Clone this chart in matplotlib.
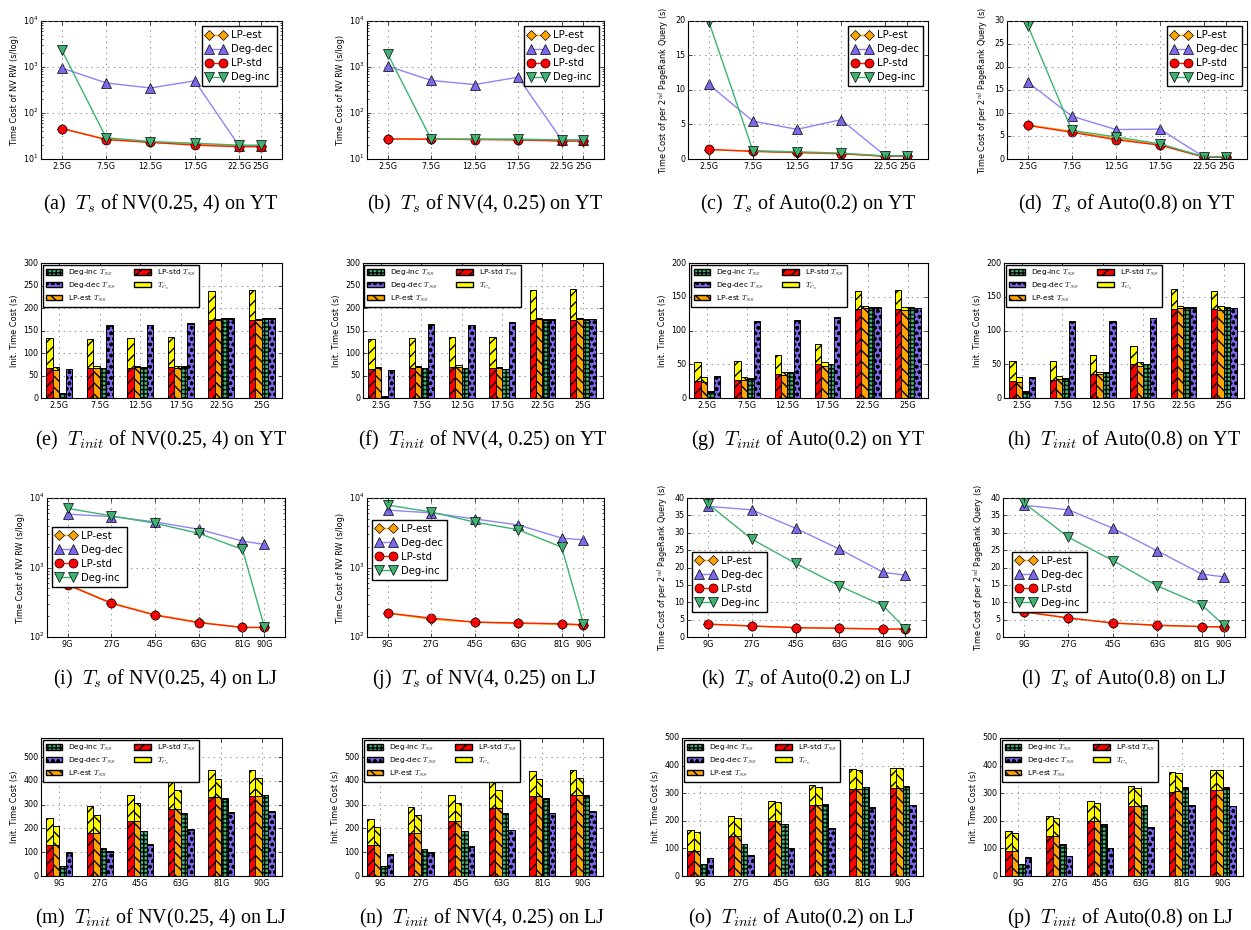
import matplotlib
matplotlib.use('Agg')
import matplotlib.pyplot as plt
from matplotlib.patches import Patch

plt.style.use('classic')
plt.rcParams['font.family'] = 'DejaVu Sans'
plt.rcParams['figure.facecolor'] = 'white'
plt.rcParams['savefig.facecolor'] = 'white'
plt.rcParams['hatch.linewidth'] = 1.0
plt.rcParams['mathtext.fontset'] = 'cm'

W, H = 1251, 930

# x axis categories
yt_sizes = [2.5, 7.5, 12.5, 17.5, 22.5, 25]
yt_labels = ['2.5G', '7.5G', '12.5G', '17.5G', '22.5G', '25G']
lj_sizes = [9, 27, 45, 63, 81, 90]
lj_labels = ['9G', '27G', '45G', '63G', '81G', '90G']

# T_s panels: LP-est, Deg-dec, LP-std, Deg-inc
a_est = [46, 27, 23, 21, 19, 19]
a_dec = [950, 450, 350, 500, 19.5, 19.5]
a_std = [46, 26.4, 23, 20, 18.5, 18.5]
a_inc = [2300, 29, 24, 22, 20, 20]

b_est = [27.5, 27, 27, 26.5, 25, 25]
b_dec = [1050, 510, 415, 600, 26, 26]
b_std = [27.3, 27, 26.5, 26, 24.5, 24.5]
b_inc = [1950, 27, 27, 27, 26, 26]

c_est = [1.35, 1.15, 0.9, 0.75, 0.4, 0.4]
c_dec = [10.8, 5.5, 4.3, 5.7, 0.48, 0.45]
c_std = [1.4, 1.1, 0.95, 0.77, 0.4, 0.4]
c_inc = [19.9, 1.2, 1.05, 0.85, 0.45, 0.45]

d_est = [7.4, 6.0, 4.4, 3.1, 0.4, 0.4]
d_dec = [16.7, 9.3, 6.4, 6.5, 0.4, 0.4]
d_std = [7.3, 5.8, 4.2, 3.0, 0.4, 0.4]
d_inc = [29.0, 6.2, 4.8, 3.3, 0.5, 0.5]

i_est = [570, 310, 210, 163, 138, 137]
i_dec = [5850, 5400, 4530, 3550, 2400, 2150]
i_std = [563, 305, 206, 161, 137, 137]
i_inc = [7080, 5540, 4330, 3100, 1820, 140]

j_est = [220, 180, 163, 157, 152, 148]
j_dec = [6700, 6100, 5000, 4100, 2650, 2500]
j_std = [221, 187, 164, 159, 155, 150]
j_inc = [7900, 6300, 4500, 3500, 1960, 155]

k_est = [3.7, 3.1, 2.7, 2.5, 2.3, 2.3]
k_dec = [37.6, 36.6, 31.3, 25.3, 18.6, 17.8]
k_std = [3.7, 3.2, 2.7, 2.5, 2.3, 2.3]
k_inc = [38.4, 28.2, 21.2, 14.7, 9.0, 2.4]

l_est = [7.3, 5.4, 4.1, 3.3, 3.0, 2.9]
l_dec = [37.9, 36.6, 31.3, 24.8, 18.1, 17.3]
l_std = [7.2, 5.5, 4.0, 3.4, 3.0, 2.9]
l_inc = [38.6, 28.7, 22.0, 14.7, 9.2, 3.4]

# T_init panels: T_NS and T_Cs per method
e_std_ns = [66, 66, 67.5, 70, 173, 173]
e_std_tc = [67.5, 66, 66, 66, 65, 66]
e_est_ns = [63, 67, 68, 67, 173, 173]
e_est_tc = [5, 4, 4, 5, 3, 3]
e_inc_ns = [10, 66, 67.5, 70, 176, 176]
e_dec_ns = [64, 161, 162, 165, 176, 176]

f_std_ns = [65, 66, 68, 66, 173, 173]
f_std_tc = [67, 68, 68, 70, 67, 69]
f_est_ns = [66, 68, 70, 67, 175, 175]
f_est_tc = [3, 3, 3, 3, 2, 2]
f_inc_ns = [3, 66, 66, 64, 174, 174]
f_dec_ns = [62, 163, 162, 167, 174, 175]

g_std_ns = [25.5, 26.5, 35, 50, 131.5, 131.5]
g_std_tc = [28.5, 29, 28, 30, 26.5, 28.5]
g_est_ns = [24, 27, 34, 48, 133, 131]
g_est_tc = [6.5, 4, 4, 5, 4, 4]
g_inc_ns = [9, 28.5, 37.5, 50, 134, 134]
g_dec_ns = [31.5, 112.5, 114, 119, 134, 133]

h_std_ns = [25, 27, 35, 50, 132, 132]
h_std_tc = [30, 28, 29, 27, 29, 26]
h_est_ns = [24, 28, 36, 48, 133, 131]
h_est_tc = [7, 4, 2, 5, 4, 5]
h_inc_ns = [9, 28, 37, 50, 134, 134]
h_dec_ns = [30, 113, 113, 118, 134, 133]

m_std_ns = [129, 181, 231, 283, 332, 336]
m_std_tc = [116, 112, 111, 122, 112, 111]
m_est_ns = [129, 181, 231, 283, 332, 336]
m_est_tc = [80, 77, 76, 77, 77, 77]
m_inc_ns = [42, 115, 188, 262, 325, 339]
m_dec_ns = [97, 101, 132, 195, 265, 270]

n_std_ns = [130, 180, 230, 285, 335, 340]
n_std_tc = [110, 110, 110, 112, 105, 107]
n_est_ns = [130, 180, 230, 285, 335, 340]
n_est_tc = [78, 78, 75, 75, 73, 70]
n_inc_ns = [40, 112, 188, 262, 325, 338]
n_dec_ns = [90, 97, 122, 193, 263, 270]

o_std_ns = [92, 144, 199, 257, 316, 319]
o_std_tc = [73, 73, 74, 71, 70, 73]
o_est_ns = [92, 144, 199, 257, 316, 319]
o_est_tc = [66, 66, 68, 67, 67, 71]
o_inc_ns = [42, 115, 187, 258, 321, 324]
o_dec_ns = [64, 74, 101, 172, 247, 257]

p_std_ns = [92, 144, 198, 254, 306, 312]
p_std_tc = [70, 72, 72, 72, 72, 71]
p_est_ns = [92, 144, 198, 254, 308, 312]
p_est_tc = [65, 65, 65, 66, 66, 71]
p_inc_ns = [42, 114, 185, 254, 320, 320]
p_dec_ns = [66, 71, 101, 174, 254, 252]

deg_tc_yt = [1, 1, 1, 1, 1, 1]
deg_tc_lj = [2, 2, 2, 2, 2, 2]

NV_LABEL = 'Time Cost of NV RW (s/log)'
PR_LABEL = 'Time Cost of per 2$^{nd}$ PageRank Query (s)'
INIT_LABEL = 'Init. Time Cost (s)'

STD_HATCH = '///'
EST_HATCH = '\\\\\\'
INC_HATCH = '++++'
DEC_HATCH = 'ooo'

fig = plt.figure(figsize=(W / 100, H / 100), dpi=100)


def px_axes(left, top, width, height):
    return fig.add_axes([left / W, 1 - (top + height) / H, width / W, height / H])


def style_axes(ax):
    ax.grid(True, color='0.5', linestyle=':', linewidth=0.6)
    ax.tick_params(labelsize=5.8, length=3, pad=2)
    ax.tick_params(which='minor', length=1.5)
    for s in ax.spines.values():
        s.set_linewidth(0.8)


def line_panel(ax, x, xlabels, est, dec, std, inc, ylabel, log, ylim, legend_kw):
    ax.plot(x, est, color='#FFA500', marker='D', mfc='#FFA500', ms=5.5, lw=1, label='LP-est')
    ax.plot(x, dec, color='#8F84F5', marker='^', mfc='#7B68EE', ms=6.5, lw=1, label='Deg-dec')
    ax.plot(x, std, color='#FF2000', marker='o', mfc='#FF0000', ms=6.5, lw=1, label='LP-std')
    ax.plot(x, inc, color='#3CB371', marker='v', mfc='#3CB371', ms=6.5, lw=1, label='Deg-inc')
    if log:
        ax.set_yscale('log')
    ax.set_ylim(*ylim)
    pad = (x[-1] - x[0]) * 0.105
    ax.set_xlim(x[0] - pad, x[-1] + pad)
    ax.set_xticks(x)
    ax.set_xticklabels(xlabels)
    ax.set_ylabel(ylabel, fontsize=5.9, labelpad=3)
    style_axes(ax)
    ax.legend(fontsize=7.3, numpoints=2, handlelength=2, borderpad=0.4,
              labelspacing=0.4, handletextpad=0.5, **legend_kw)


def bar_panel(ax, xlabels, std_ns, std_tc, est_ns, est_tc, inc_ns, dec_ns, deg_tc, ylim, yticks):
    w = 0.16
    groups = list(range(len(xlabels)))
    kw = dict(width=w, edgecolor='k', linewidth=0.7, align='center')
    specs = [
        (std_ns, std_tc, '#FF0000', STD_HATCH),
        (est_ns, est_tc, '#FFA500', EST_HATCH),
        (inc_ns, deg_tc, '#3CB371', INC_HATCH),
        (dec_ns, deg_tc, '#7B68EE', DEC_HATCH),
    ]
    for k, (ns, tc, col, hat) in enumerate(specs):
        xs = [g + (k - 1.5) * w for g in groups]
        ax.bar(xs, ns, color=col, hatch=hat, **kw)
        ax.bar(xs, tc, bottom=ns, color='#FFFF00', hatch=hat, **kw)
    ax.set_axisbelow(True)
    ax.set_xlim(-0.45, 5.5)
    ax.set_ylim(*ylim)
    ax.set_yticks(yticks)
    ax.set_xticks(groups)
    ax.set_xticklabels(xlabels)
    ax.set_ylabel(INIT_LABEL, fontsize=5.9, labelpad=3)
    style_axes(ax)
    handles = [
        Patch(facecolor='#3CB371', edgecolor='k', hatch=INC_HATCH, label='Deg-inc $T_{NS}$'),
        Patch(facecolor='#7B68EE', edgecolor='k', hatch=DEC_HATCH, label='Deg-dec $T_{NS}$'),
        Patch(facecolor='#FFA500', edgecolor='k', hatch=EST_HATCH, label='LP-est $T_{NS}$'),
        Patch(facecolor='#FF0000', edgecolor='k', hatch=STD_HATCH, label='LP-std $T_{NS}$'),
        Patch(facecolor='#FFFF00', edgecolor='k', label='$T_{C_s}$'),
    ]
    ax.legend(handles=handles, ncol=2, loc='upper left', fontsize=5.4,
              borderaxespad=0.2, handlelength=2.2, labelspacing=0.35,
              columnspacing=2.5, borderpad=0.4)


def caption(cx, cy, text):
    fig.text(cx / W, 1 - cy / H, text, ha='center', va='center',
             family='Liberation Serif', fontsize=14.5)


ur = dict(loc='upper right')

# row 1
ax = px_axes(41, 21, 241, 138)
line_panel(ax, yt_sizes, yt_labels, a_est, a_dec, a_std, a_inc, NV_LABEL, True, (10, 1e4), ur)
ax = px_axes(367, 21, 237, 138)
line_panel(ax, yt_sizes, yt_labels, b_est, b_dec, b_std, b_inc, NV_LABEL, True, (10, 1e4), ur)
ax = px_axes(688, 21, 240, 138)
line_panel(ax, yt_sizes, yt_labels, c_est, c_dec, c_std, c_inc, PR_LABEL, False, (0, 20), ur)
ax = px_axes(1007, 21, 240, 138)
line_panel(ax, yt_sizes, yt_labels, d_est, d_dec, d_std, d_inc, PR_LABEL, False, (0, 30), ur)

# row 2
ax = px_axes(41, 263, 241, 135)
bar_panel(ax, yt_labels, e_std_ns, e_std_tc, e_est_ns, e_est_tc, e_inc_ns, e_dec_ns,
          deg_tc_yt, (0, 300), range(0, 301, 50))
ax = px_axes(363, 263, 240, 135)
bar_panel(ax, yt_labels, f_std_ns, f_std_tc, f_est_ns, f_est_tc, f_inc_ns, f_dec_ns,
          deg_tc_yt, (0, 300), range(0, 301, 50))
ax = px_axes(689, 263, 239, 135)
bar_panel(ax, yt_labels, g_std_ns, g_std_tc, g_est_ns, g_est_tc, g_inc_ns, g_dec_ns,
          deg_tc_yt, (0, 200), range(0, 201, 50))
ax = px_axes(1004, 263, 240, 135)
bar_panel(ax, yt_labels, h_std_ns, h_std_tc, h_est_ns, h_est_tc, h_inc_ns, h_dec_ns,
          deg_tc_yt, (0, 200), range(0, 201, 50))

# row 3
ax = px_axes(47, 498, 238, 139)
line_panel(ax, lj_sizes, lj_labels, i_est, i_dec, i_std, i_inc, NV_LABEL, True, (100, 1e4),
           dict(loc='upper left', bbox_to_anchor=(0.0, 0.83)))
ax = px_axes(367, 498, 237, 139)
line_panel(ax, lj_sizes, lj_labels, j_est, j_dec, j_std, j_inc, NV_LABEL, True, (100, 1e4),
           dict(loc='upper left', bbox_to_anchor=(0.0, 0.88)))
ax = px_axes(687, 498, 239, 139)
line_panel(ax, lj_sizes, lj_labels, k_est, k_dec, k_std, k_inc, PR_LABEL, False, (0, 40),
           dict(loc='upper left', bbox_to_anchor=(0.0, 0.65)))
ax = px_axes(1003, 498, 242, 139)
line_panel(ax, lj_sizes, lj_labels, l_est, l_dec, l_std, l_inc, PR_LABEL, False, (0, 40),
           dict(loc='upper left', bbox_to_anchor=(0.015, 0.65)))

# row 4
ax = px_axes(41, 738, 241, 138)
bar_panel(ax, lj_labels, m_std_ns, m_std_tc, m_est_ns, m_est_tc, m_inc_ns, m_dec_ns,
          deg_tc_lj, (0, 580), range(0, 501, 100))
ax = px_axes(362, 738, 241, 138)
bar_panel(ax, lj_labels, n_std_ns, n_std_tc, n_est_ns, n_est_tc, n_inc_ns, n_dec_ns,
          deg_tc_lj, (0, 580), range(0, 501, 100))
ax = px_axes(682, 738, 241, 138)
bar_panel(ax, lj_labels, o_std_ns, o_std_tc, o_est_ns, o_est_tc, o_inc_ns, o_dec_ns,
          deg_tc_lj, (0, 500), range(0, 501, 100))
ax = px_axes(1000, 738, 243, 138)
bar_panel(ax, lj_labels, p_std_ns, p_std_tc, p_est_ns, p_est_tc, p_inc_ns, p_dec_ns,
          deg_tc_lj, (0, 500), range(0, 501, 100))

# captions
caption(161, 204, '(a)  $T_s$ of NV(0.25, 4) on YT')
caption(485, 204, '(b)  $T_s$ of NV(4, 0.25) on YT')
caption(808, 204, '(c)  $T_s$ of Auto(0.2) on YT')
caption(1127, 204, '(d)  $T_s$ of Auto(0.8) on YT')
caption(161, 440, '(e)  $T_{init}$ of NV(0.25, 4) on YT')
caption(483, 440, '(f)  $T_{init}$ of NV(4, 0.25) on YT')
caption(808, 440, '(g)  $T_{init}$ of Auto(0.2) on YT')
caption(1124, 440, '(h)  $T_{init}$ of Auto(0.8) on YT')
caption(166, 679, '(i)  $T_s$ of NV(0.25, 4) on LJ')
caption(485, 679, '(j)  $T_s$ of NV(4, 0.25) on LJ')
caption(806, 679, '(k)  $T_s$ of Auto(0.2) on LJ')
caption(1124, 679, '(l)  $T_s$ of Auto(0.8) on LJ')
caption(161, 918, '(m)  $T_{init}$ of NV(0.25, 4) on LJ')
caption(482, 918, '(n)  $T_{init}$ of NV(4, 0.25) on LJ')
caption(802, 918, '(o)  $T_{init}$ of Auto(0.2) on LJ')
caption(1121, 918, '(p)  $T_{init}$ of Auto(0.8) on LJ')

fig.savefig('out.png', dpi=100)
